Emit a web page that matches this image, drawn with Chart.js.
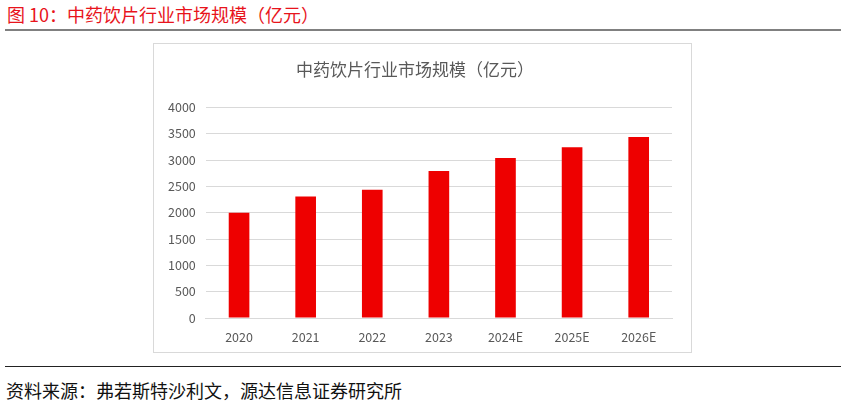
<!DOCTYPE html>
<html>
<head>
<meta charset="utf-8">
<script src="https://cdn.jsdelivr.net/npm/chart.js@4.4.1/dist/chart.umd.min.js"></script>
<style>
  body { margin: 0; background: #fff; font-family: "Noto Sans CJK SC", sans-serif; }
  #page { position: relative; width: 847px; height: 406px; overflow: hidden; }
  #head { position: absolute; left: 7px; top: 1px; font-size: 18px; color: #e8141c; }
  #topline { position: absolute; left: 5px; right: 6px; top: 29px; height: 2px; background: #808080; }
  #box { position: absolute; left: 153px; top: 43px; width: 537px; height: 308px; border: 1px solid #d9d9d9; }
  #botline { position: absolute; left: 5px; right: 6px; top: 366px; height: 1px; background: #222; }
  #src { position: absolute; left: 6px; top: 377px; font-size: 18px; color: #111; }
</style>
</head>
<body>
<div id="page">
  <div id="head">图 10：中药饮片行业市场规模（亿元）</div>
  <div id="topline"></div>
  <div id="box"><canvas id="myChart"></canvas></div>
  <div id="botline"></div>
  <div id="src">资料来源：弗若斯特沙利文，源达信息证券研究所</div>
</div>
<script>
// categories and values
let years = ['2020', '2021', '2022', '2023', '2024E', '2025E', '2026E'];
let marketSize = [2000, 2310, 2435, 2790, 3040, 3245, 3440];
let yTicks = [0, 500, 1000, 1500, 2000, 2500, 3000, 3500, 4000];

let ctx = document.getElementById('myChart').getContext('2d');
let xchart = new Chart(ctx, {
    type: 'bar',
    data: {
        labels: years,
        datasets: [{
            label: '中药饮片行业市场规模',
            backgroundColor: '#ee0000',
            data: marketSize,
            categoryPercentage: 1,
            barPercentage: 0.31
        }]
    },
    options: {
        responsive: true,
        maintainAspectRatio: false,
        animation: false,
        layout: { padding: { left: 4, right: 19, top: 4, bottom: 3 } },
        plugins: {
            legend: { display: false },
            tooltip: { enabled: false },
            title: {
                display: true,
                text: '中药饮片行业市场规模（亿元）',
                color: '#595959',
                font: { family: '"Noto Sans CJK SC"', size: 17, weight: 'normal' },
                padding: { top: 11, bottom: 28 }
            }
        },
        scales: {
            x: {
                grid: { display: false },
                border: { color: '#d9d9d9' },
                ticks: { color: '#595959', font: { family: '"Noto Sans CJK SC"', size: 12.5 }, padding: 4 }
            },
            y: {
                min: 0,
                max: 4000,
                afterBuildTicks: function (axis) { axis.ticks = yTicks.map(v => ({ value: v })); },
                grid: { color: '#d9d9d9', lineWidth: 1, drawTicks: false },
                border: { display: false },
                ticks: {
                    color: '#595959',
                    font: { family: '"Noto Sans CJK SC"', size: 12.5 },
                    padding: 10,
                    callback: function (value) { return String(value); }
                }
            }
        }
    }
});
</script>
</body>
</html>
